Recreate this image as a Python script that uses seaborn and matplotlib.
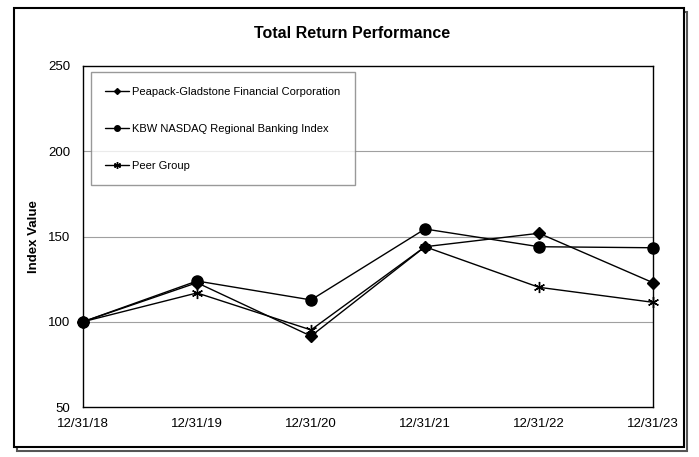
import matplotlib
matplotlib.use("Agg")
import matplotlib.pyplot as plt
import seaborn as sns
import pandas as pd
from matplotlib.patches import Rectangle
from matplotlib.lines import Line2D

dates = ["12/31/18", "12/31/19", "12/31/20", "12/31/21", "12/31/22", "12/31/23"]
peapack = [100, 122.9, 91.6, 144.0, 151.9, 122.9]
kbw = [100, 123.9, 112.8, 154.4, 144.0, 143.4]
peer = [100, 116.9, 95.2, 144.0, 120.2, 111.4]
series_names = ["Peapack-Gladstone Financial Corporation",
                "KBW NASDAQ Regional Banking Index",
                "Peer Group"]

sns.set_theme(style="white")
plt.rcParams['font.family'] = ['Liberation Sans', 'DejaVu Sans']
plt.rcParams['text.color'] = 'black'
plt.rcParams['xtick.color'] = 'black'
plt.rcParams['ytick.color'] = 'black'
plt.rcParams['axes.labelcolor'] = 'black'

rows = []
for name, vals in zip(series_names, [peapack, kbw, peer]):
    for i, (d, v) in enumerate(zip(dates, vals)):
        rows.append({"x": i, "date": d, "value": v, "series": name})
df = pd.DataFrame(rows)

fig = plt.figure(figsize=(6.99, 4.57), dpi=100)
# outer border with shadow (behind axes)
fig.patches.append(Rectangle((17/699, 1-451/457), 670/699, 439/457, transform=fig.transFigure,
                             facecolor="none", edgecolor="#555555", linewidth=1.5, zorder=-3))
fig.patches.append(Rectangle((14/699, 1-447/457), 670/699, 439/457, transform=fig.transFigure,
                             facecolor="white", edgecolor="black", linewidth=1.5, zorder=-2))

ax = fig.add_axes([83/699, 1-407/457, 570/699, 341/457])
ax.set_zorder(1)

markers = {series_names[0]: "D", series_names[1]: "o", series_names[2]: (6, 2, 0)}
sizes_m = {series_names[0]: 6, series_names[1]: 8, series_names[2]: 8}
for name in series_names:
    sub = df[df.series == name]
    sns.lineplot(data=sub, x="x", y="value", ax=ax, color="black", linewidth=1.0,
                 marker=markers[name], markersize=sizes_m[name],
                 markeredgecolor="black", markerfacecolor="black",
                 markeredgewidth=1.0, legend=False, clip_on=False)

ax.set_xlim(0, 5)
ax.set_ylim(50, 250)
ax.set_xticks(range(len(dates)))
ax.set_xticklabels(dates, fontsize=9.5)
ax.set_yticks([50, 100, 150, 200, 250])
ax.set_yticklabels(["50", "100", "150", "200", "250"], fontsize=9.5)
ax.tick_params(axis="x", direction="in", length=4, width=0.8, color="black", pad=8)
ax.tick_params(axis="y", length=0, pad=9)
for s in ax.spines.values():
    s.set_color("black")
    s.set_linewidth(1.0)
for yv in [100, 150, 200]:
    ax.axhline(yv, color="#a0a0a0", linewidth=0.8, zorder=0)
ax.set_xlabel("")
ax.set_ylabel("Index Value", fontsize=9.5, fontweight="bold", labelpad=6)

handles = [Line2D([], [], color="black", lw=1.0, marker="D", markersize=3),
           Line2D([], [], color="black", lw=1.0, marker="o", markersize=4),
           Line2D([], [], color="black", lw=1.0, marker=(6, 2, 0), markersize=5)]
leg = ax.legend(handles, series_names, loc="upper left", bbox_to_anchor=(0.014, 0.982),
                fontsize=8, frameon=True, fancybox=False, edgecolor="#808080",
                labelspacing=2.45, borderpad=1.3, handlelength=2.1, handletextpad=0.3,
                borderaxespad=0)
leg.get_frame().set_linewidth(1.0)
for t in leg.get_texts():
    t.set_color("black")

fig.text(352/699, 1-33/457, "Total Return Performance", ha="center", va="center",
         fontsize=11.5, fontweight="bold", color="black")

fig.savefig("out.png", dpi=100)
